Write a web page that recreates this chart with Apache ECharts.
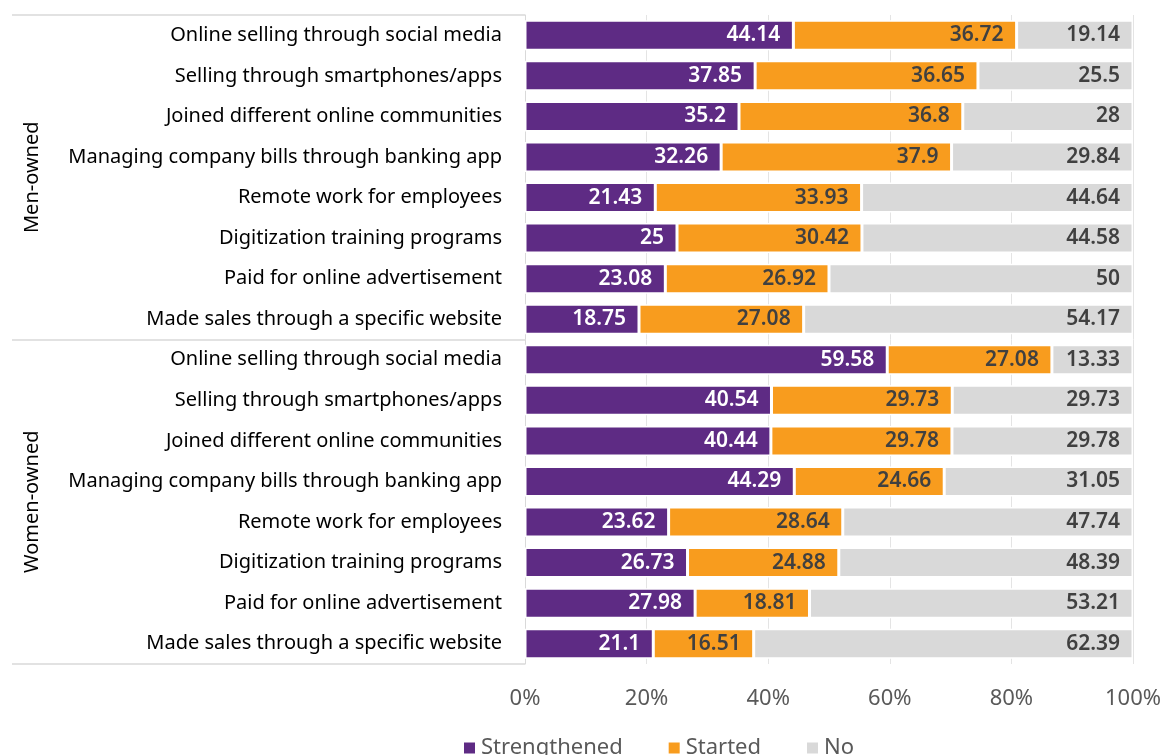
<!DOCTYPE html>
<html lang="en">
<head>
  <meta charset="UTF-8">
  <title>Digital adoption by ownership</title>
  <style>
    html, body { margin: 0; padding: 0; background: #fff; }
    #chart { width: 1165px; height: 755px; }
  </style>
</head>
<body>
  <div id="chart"></div>
  <script src="https://cdn.jsdelivr.net/npm/echarts@6/dist/echarts.min.js"></script>
  <script>
// categories (same 8 activities for each group)
const activities = [
  'Online selling through social media',
  'Selling through smartphones/apps',
  'Joined different online communities',
  'Managing company bills through banking app',
  'Remote work for employees',
  'Digitization training programs',
  'Paid for online advertisement',
  'Made sales through a specific website'
];
const groups = ['Men-owned', 'Women-owned'];

// values, men first then women
const strengthened = [44.14, 37.85, 35.2, 32.26, 21.43, 25, 23.08, 18.75,
                      59.58, 40.54, 40.44, 44.29, 23.62, 26.73, 27.98, 21.1];
const started      = [36.72, 36.65, 36.8, 37.9, 33.93, 30.42, 26.92, 27.08,
                      27.08, 29.73, 29.78, 24.66, 28.64, 24.88, 18.81, 16.51];
const no           = [19.14, 25.5, 28, 29.84, 44.64, 44.58, 50, 54.17,
                      13.33, 29.73, 29.78, 31.05, 47.74, 48.39, 53.21, 62.39];

const xTicks = [0, 20, 40, 60, 80, 100];

// one row per activity per group; keys kept unique, label shows activity only
const rows = [];
groups.forEach((g, gi) => activities.forEach((a, ai) => rows.push(gi + '|' + a)));

const font = 'Noto Sans';
const gridCol = '#d9d9d9';

function seriesOf(name, data, color, labelColor) {
  return {
    name: name,
    type: 'bar',
    stack: 'all',
    data: data,
    barWidth: '74%',
    itemStyle: { color: color, borderColor: '#fff', borderWidth: 1.5 },
    label: {
      show: true,
      position: 'insideRight',
      distance: 13,
      color: labelColor,
      fontFamily: font,
      fontSize: 21,
      fontWeight: 600
    }
  };
}

const chart = echarts.init(document.getElementById('chart'));
chart.setOption({
  animation: false,
  textStyle: { fontFamily: font },
  grid: { left: 525, right: 32, top: 15, bottom: 91 },
  legend: {
    bottom: -9,
    left: 457,
    itemWidth: 13,
    itemHeight: 13,
    itemGap: 44,
    icon: 'rect',
    textStyle: { fontSize: 22, color: '#595959', fontFamily: font },
    data: ['Strengthened', 'Started', 'No']
  },
  xAxis: {
    type: 'value',
    min: xTicks[0],
    max: xTicks[xTicks.length - 1],
    interval: 20,
    axisLine: { show: false },
    axisTick: { show: false },
    splitLine: { show: true, lineStyle: { color: '#e4e4e4', width: 1 } },
    axisLabel: { formatter: '{value}%', fontSize: 22, color: '#595959', margin: 24, fontFamily: font }
  },
  yAxis: [
    {
      type: 'category',
      data: rows,
      inverse: true,
      axisLine: { show: true, lineStyle: { color: gridCol } },
      axisTick: { show: false },
      axisLabel: {
        formatter: v => v.split('|')[1],
        fontSize: 20,
        color: '#000',
        margin: 23,
        fontFamily: font
      }
    },
    {
      type: 'category',
      data: groups,
      inverse: true,
      position: 'left',
      axisLine: { show: false },
      axisTick: { show: true, length: 513, lineStyle: { color: gridCol, width: 1.5 } },
      axisLabel: { rotate: 90, margin: 483, fontSize: 20, color: '#000', fontFamily: font }
    }
  ],
  series: [
    seriesOf('Strengthened', strengthened, '#5e2b84', '#fff'),
    seriesOf('Started', started, '#f89c1e', '#404040'),
    seriesOf('No', no, '#d9d9d9', '#404040')
  ]
});
  </script>
</body>
</html>
